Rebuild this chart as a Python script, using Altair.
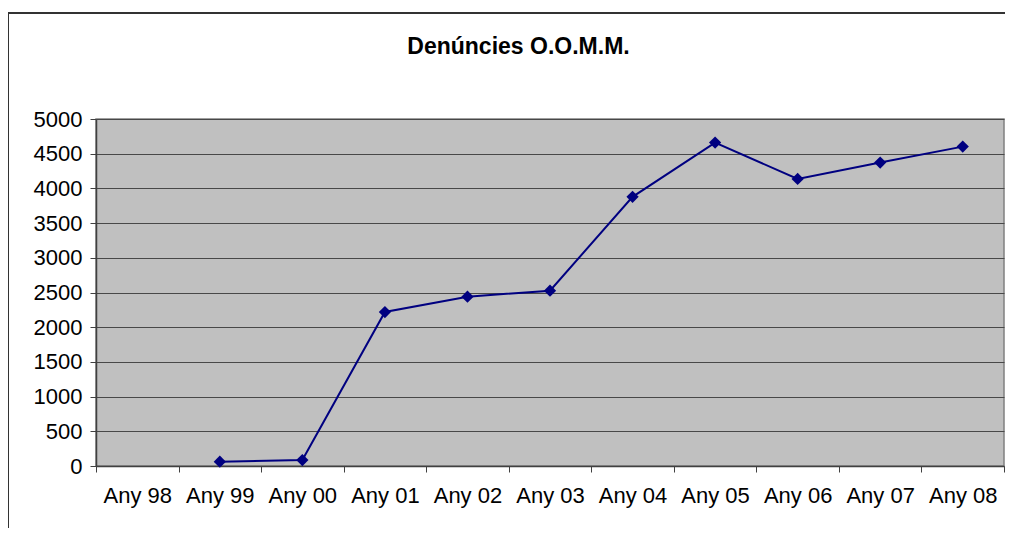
import altair as alt
import pandas as pd

categories = ["Any 98", "Any 99", "Any 00", "Any 01", "Any 02", "Any 03",
              "Any 04", "Any 05", "Any 06", "Any 07", "Any 08"]
years = ["Any 99", "Any 00", "Any 01", "Any 02", "Any 03",
         "Any 04", "Any 05", "Any 06", "Any 07", "Any 08"]
values = [62, 86, 2219, 2440, 2526, 3878, 4660, 4137, 4372, 4602]
y_ticks = [0, 500, 1000, 1500, 2000, 2500, 3000, 3500, 4000, 4500, 5000]
title_text = ["Denúncies O.O.M.M."]

df = pd.DataFrame({"any": years, "denuncies": values})
FONT = "Liberation Sans"
NAVY = "#000080"

x_enc = alt.X("any:N", sort=categories,
              scale=alt.Scale(domain=categories, paddingInner=0, paddingOuter=0),
              axis=alt.Axis(title=None, labelAngle=0, tickBand="extent",
                            labelFont=FONT, labelFontSize=22, labelColor="#000000",
                            labelPadding=13, tickSize=6, tickColor="#404040",
                            domainColor="#404040", domainWidth=1.5, grid=False))
y_enc = alt.Y("denuncies:Q",
              scale=alt.Scale(domain=[0, 5000], nice=False),
              axis=alt.Axis(title=None, values=y_ticks, format="d", labelFont=FONT,
                            labelFontSize=22, labelColor="#000000", labelPadding=8,
                            tickSize=6, tickColor="#404040", domainColor="#404040",
                            domainWidth=1.5, grid=True, gridColor="#484848",
                            gridWidth=1))

base = alt.Chart(df)
line = base.mark_line(color=NAVY, strokeWidth=2).encode(x=x_enc, y=y_enc)
pts = base.mark_point(shape="diamond", filled=True, color=NAVY, size=150,
                      opacity=1).encode(x=x_enc, y=y_enc)

frame = alt.Chart(pd.DataFrame({"k": [0]})).mark_rect(
    fill="transparent", stroke="#333333", strokeWidth=2, clip=False
).encode(x=alt.value(-88), x2=alt.value(960), y=alt.value(-106), y2=alt.value(500))

title = alt.Chart(pd.DataFrame({"t": title_text})).mark_text(
    font=FONT, fontSize=23, fontWeight="bold", color="#000000",
    align="center", baseline="alphabetic", clip=False
).encode(text="t:N", x=alt.value(422.5), y=alt.value(-65))

chart = alt.layer(frame, line, pts, title).properties(
    width=908, height=347,
    background="#ffffff",
    padding={"left": 88, "top": 111, "right": 1, "bottom": 62},
    autosize=alt.AutoSizeParams(type="none"),
).configure_view(
    fill="#C0C0C0", stroke="#808080", strokeWidth=1.5
)

chart.save("out.html", embed_options={"renderer": "svg", "actions": False})
